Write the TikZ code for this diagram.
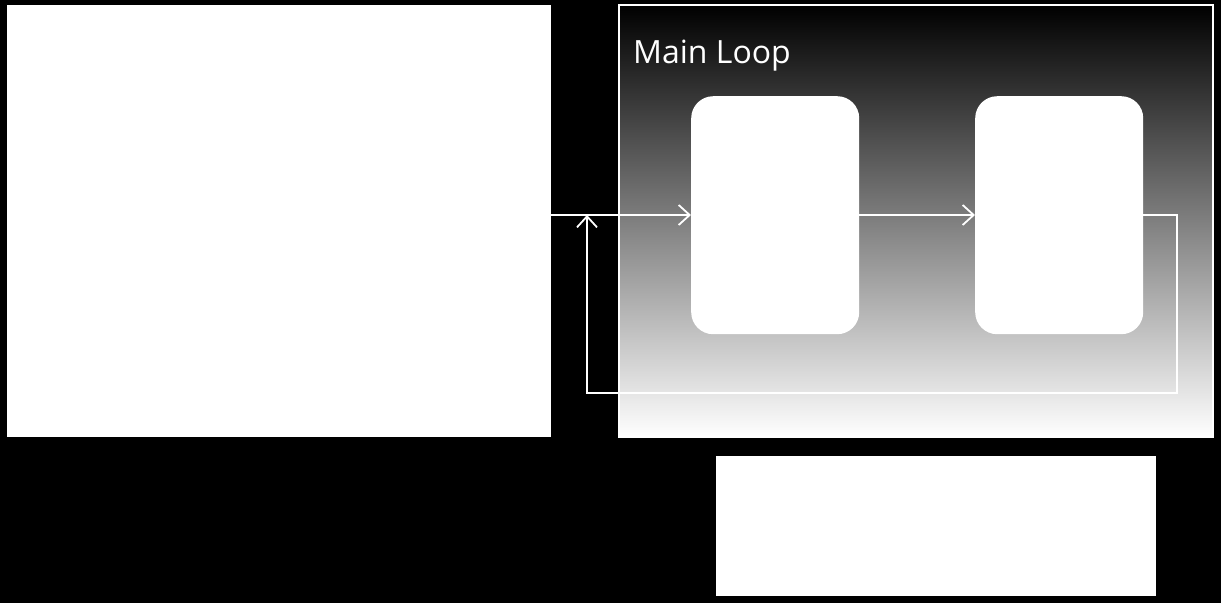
\documentclass[tikz,border=0pt]{standalone}
\usepackage{fontspec}
\setmainfont{Open Sans}
\usetikzlibrary{arrows.meta}
\begin{document}
\begin{tikzpicture}[x=1pt,y=-1pt,
  plain/.style={fill=white,draw=none,inner sep=0pt},
  rbox/.style={fill=white,draw=none,rounded corners=22pt,inner sep=0pt},
  conn/.style={draw=white,line width=1.8pt,-{Straight Barb[length=11pt,width=20pt,line width=1.8pt]}},
  wire/.style={draw=white,line width=1.8pt}]
\fill[black] (0,0) rectangle (1221,603);
\useasboundingbox (0,0) rectangle (1221,603);
% left box
\node[plain,minimum width=544pt,minimum height=432pt,anchor=north west] (left) at (7,5) {};
% main loop box
\shade[top color=black,bottom color=white] (619,5) rectangle (1213,437);
\draw[white,line width=1.6pt] (619,5) rectangle (1213,437);
\node[anchor=base west,text=white,font=\fontsize{32}{38}\selectfont,inner sep=0pt] (title) at (633,63) {Main Loop};
% inner boxes
\node[rbox,minimum width=168pt,minimum height=238pt,anchor=north west] (b1) at (691,96) {};
\node[rbox,minimum width=168pt,minimum height=238pt,anchor=north west] (b2) at (975,96) {};
% bottom box
\node[plain,minimum width=440pt,minimum height=140pt,anchor=north west] (bottom) at (716,456) {};
% connectors
\coordinate (j) at (587,215);
\draw[conn] (left.east |- 0,215) -- (b1.west |- 0,215);
\draw[conn] (b1.east |- 0,215) -- (b2.west |- 0,215);
\draw[wire] (b2.east |- 0,215) -- (1177,215) -- (1177,393) -- (587,393) -- ++(0,-1);
\draw[conn] (587,393) -- (j);
\end{tikzpicture}
\end{document}
